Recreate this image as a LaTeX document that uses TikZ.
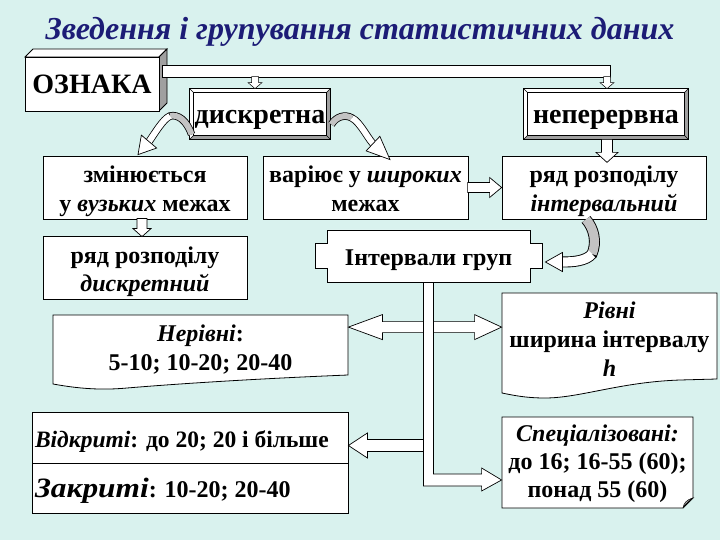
\documentclass[tikz,border=0pt]{standalone}
\usepackage{fontspec}
\setmainfont{Liberation Serif}
\usetikzlibrary{calc}
\definecolor{bgc}{RGB}{217,242,238}
\definecolor{titlec}{RGB}{28,28,118}
\definecolor{sidegray}{RGB}{160,160,160}
\definecolor{bandgray}{RGB}{195,195,195}
\newcommand\bfnt{\fontsize{24}{28.5}\selectfont\bfseries}
\newcommand\hfnt{\fontsize{28}{32}\selectfont\bfseries}
\newcommand\st{\rule[-5.5pt]{0pt}{22.5pt}}
\newcommand\stf{\rule[-5.5pt]{0pt}{30.5pt}}
\newcommand\bevelframe[1]{%
 \fill[sidegray] (#1.north east) -- (#1.south east) -- (#1.south west) -- ($(#1.south west)+(4,-4)$) -- ($(#1.south east)+(-4,-4)$) -- ($(#1.north east)+(-4,4)$) -- cycle;
 \draw (#1.north west) rectangle (#1.south east);
 \draw ($(#1.north west)+(4,4)$) rectangle ($(#1.south east)+(-4,-4)$);
 \draw[line width=0.4pt] (#1.north west) -- ++(4,4) (#1.north east) -- ++(-4,4) (#1.south west) -- ++(4,-4) (#1.south east) -- ++(-4,-4);}
\begin{document}
\begin{tikzpicture}[x=1pt,y=-1pt,line width=0.8pt,
  box/.style={draw,fill=white,inner sep=0pt,align=center,font=\bfnt},
  txt/.style={inner sep=0pt,align=center,font=\bfnt},
  barrow/.style={draw,fill=white,line width=0.7pt}]
\useasboundingbox[fill=bgc] (0,0) rectangle (720,540);
% title
\node[font=\fontsize{32}{36}\selectfont\bfseries\itshape,text=titlec] (title) at (360,32) {Зведення і групування статистичних даних};
% OZNAKA 3D box
\filldraw[fill=white] (25,57) -- (33,49) -- (167,49) -- (159,57) -- cycle;
\filldraw[fill=sidegray] (159,57) -- (167,49) -- (167,103) -- (159,111) -- cycle;
\node[box,minimum width=134pt,minimum height=54pt,font=\hfnt] (oz) at (92,84) {\stf ОЗНАКА};
\node[draw,fill=white,inner sep=0pt,minimum width=448pt,minimum height=12pt] (bar) at (386,71) {};
% bevel boxes
\node[fill=white,inner sep=0pt,minimum width=140pt,minimum height=50pt,font=\hfnt] (dk) at (260,114) {\stf дискретна};
\bevelframe{dk}
\node[fill=white,inner sep=0pt,minimum width=164pt,minimum height=50pt,font=\hfnt] (np) at (606,114) {\stf неперервна};
\bevelframe{np}
% small arrows from bar
\coordinate (s1) at ($(dk.north)+(-5,0)$);
\coordinate (s2) at ($(np.north)+(1,0)$);
\foreach \s in {s1,s2}{
\draw[barrow,line width=0.5pt] (\s) -- ++(-7,-6) -- ++(3.5,0) -- ++(0,-6) -- ++(7,0) -- ++(0,6) -- ++(3.5,0) -- cycle;}
% plain boxes
\node[box,minimum width=204pt,minimum height=63pt] (zm) at (145,187.5) {\stf змінюється\\\st у \textit{вузьких} межах};
\node[box,minimum width=204pt,minimum height=63pt] (rd) at (145,267.5) {\stf ряд розподілу\\\st\textit{дискретний}};
\node[box,minimum width=205pt,minimum height=63pt] (vr) at (365.5,187.5) {\stf варіює у \textit{широких}\\\st межах};
\node[box,minimum width=204pt,minimum height=63pt] (ri) at (604,187.5) {\stf ряд розподілу\\\st\textit{інтервальний}};
% Intervaly grup
\filldraw[fill=white] (327,230) -- (530,230) -- (530,243) -- (542,243) -- (542,268) -- (530,268) -- (530,282) -- (327,282) -- (327,268) -- (315,268) -- (315,243) -- (327,243) -- cycle;
\node[txt,minimum width=203pt,minimum height=52pt] (ig) at (428.5,256) {\stf Інтервали груп};
% Nerivni document shape
\filldraw[fill=white] (53,315) -- (348,315) -- (348,375) .. controls (250,379) and (175,384) .. (127,388) .. controls (95,391) and (70,387) .. (53,384) -- cycle;
\node[txt,minimum width=295pt,minimum height=62pt] (nr) at (200.5,346) {\stf\textit{Нерівні}:\\\st 5-10; 10-20; 20-40};
% Rivni document shape
\filldraw[fill=white] (502,293) -- (717,293) -- (717,379) -- (680,380) .. controls (620,382) and (580,398) .. (545,398) .. controls (525,398) and (512,395) .. (502,393) -- cycle;
\node[txt,minimum width=215pt,minimum height=90pt,font=\fontsize{24}{29}\selectfont\bfseries] (rv) at (609.5,338) {\stf\textit{Рівні}\\\st ширина інтервалу\\\st\textit{h}};
% Vidkryti / Zakryti
\node[box,minimum height=51pt,inner xsep=3pt,align=left] (vk) at (190,437.5) {\makebox[310pt][l]{\stf{\fontsize{23.5}{27}\selectfont\textit{Відкриті}: до 20; 20 і більше}}};
\node[box,minimum height=50pt,inner xsep=3pt,align=left] (zk) at (190,488) {\makebox[310pt][l]{\stf\scalebox{1.12}[1]{\fontsize{28}{30}\selectfont\itshape Закриті}: 10-20; 20-40}};
% Specializovani
\filldraw[fill=white] (502,417) -- (693,417) -- (693,498) -- (683,508) -- (502,508) -- cycle;
\filldraw[fill=bandgray,line width=0.5pt] (683,508) .. controls (684,503) and (686,500) .. (693,498) .. controls (689,501) and (687,502) .. (683,508);
\node[txt,minimum width=191pt,minimum height=91pt,font=\fontsize{24}{28}\selectfont\bfseries] (sp) at (597.5,460) {\stf\textit{Спеціалізовані:}\\\st до 16; 16-55 (60);\\\st понад 55 (60)};
% straight block arrows
\coordinate (T1) at ($(rd.north)+(-3,1)$);
\draw[barrow] (T1) -- ++(-9,-8) -- ++(4,0) -- ++(0,-10) -- ++(10,0) -- ++(0,10) -- ++(4,0) -- cycle;
\coordinate (T2) at (ri.west);
\draw[barrow] (T2) -- ++(-12,-10) -- ++(0,5) -- ++(-22,0) -- ++(0,10) -- ++(22,0) -- ++(0,5) -- cycle;
\coordinate (T3) at ($(np.south)+(1,23)$);
\draw[barrow] (T3) -- ++(-11,-10) -- ++(5.5,0) -- ++(0,-13) -- ++(11,0) -- ++(0,13) -- ++(5.5,0) -- cycle;
% tree of arrows from Intervaly grup
\coordinate (vbL) at ($(ig.south)+(-5,0)$);
\coordinate (vbR) at ($(ig.south)+(5,0)$);
\coordinate (E) at ($(sp.west)+(0,20)$);
\coordinate (Et) at ($(E)+(0,-6)$);
\coordinate (Eb) at ($(E)+(0,6)$);
\coordinate (L) at ($(nr.north east)+(0,12.5)$);
\coordinate (R) at (rv.west |- L);
\draw[barrow] (L) -- ($(L)+(34,-12.5)$) -- ($(L)+(34,-5.5)$) -- ($(R)+(-27,-5.5)$) -- ($(R)+(-27,-12.5)$) -- (R) -- ($(R)+(-27,12.5)$) -- ($(R)+(-27,5.5)$) -- ($(L)+(34,5.5)$) -- ($(L)+(34,12.5)$) -- cycle;
\coordinate (T) at ($(vk.east)+(0,8)$);
\draw[barrow] (T) -- ($(T)+(19,-12.5)$) -- ($(T)+(19,-6)$) -- ($(vbL |- T)+(2,-6)$) -- ($(vbL |- T)+(2,6)$) -- ($(T)+(19,6)$) -- ($(T)+(19,12.5)$) -- cycle;
\draw[barrow] (vbL) -- (vbR) -- (vbR |- Et) -- ($(E)+(-20,-6)$) -- ($(E)+(-20,-12)$) -- (E) -- ($(E)+(-20,11)$) -- ($(E)+(-20,6)$) -- (vbL |- Eb) -- cycle;
% curved arrows
% 1: dk -> zm
\coordinate (a1s) at ($(dk.south west)+(2,-5)$);
\coordinate (a1m) at (170,116);
\coordinate (a1t) at ($(zm.north)+(-7,-1)$);
\coordinate (a1b) at ($(a1t)+(11,-13)$);
\draw[line width=7.5pt] (a1s) .. controls +(-5,-14) and +(8,-2) .. (a1m) .. controls +(-7,3) and +(5,-7) .. (a1b);
\draw[line width=5.9pt,bandgray] (a1s) .. controls +(-5,-14) and +(8,-2) .. (a1m);
\draw[line width=5.9pt,white] (a1m) .. controls +(-7,3) and +(5,-7) .. (a1b);
\draw[barrow] (a1t) -- ($(a1b)+(7.65,6.46)$) -- ($(a1b)+(-7.65,-6.46)$) -- cycle;
% 2: dk -> vr
\coordinate (a2s) at ($(dk.south east)+(1,-15)$);
\coordinate (a2m) at (352,118);
\coordinate (a2t) at ($(vr.north)+(24.5,4)$);
\coordinate (a2b) at ($(a2t)+(-17,-16)$);
\draw[line width=7.5pt] (a2s) .. controls +(5,-8) and +(-7,-4) .. (a2m) .. controls +(8,4) and +(-5,-5) .. (a2b);
\draw[line width=5.9pt,bandgray] (a2s) .. controls +(5,-8) and +(-7,-4) .. (a2m);
\draw[line width=5.9pt,white] (a2m) .. controls +(8,4) and +(-5,-5) .. (a2b);
\draw[barrow] (a2t) -- ($(a2b)+(6.85,-7.28)$) -- ($(a2b)+(-6.85,7.28)$) -- cycle;
% 3: ri -> ig
\coordinate (a3s) at ($(ri.south)+(-18,0)$);
\coordinate (a3m) at (592,254);
\coordinate (a3t) at ($(ig.east)+(15,6)$);
\coordinate (a3b) at ($(a3t)+(17,0)$);
\draw[line width=11pt] (a3s) .. controls +(8,9) and +(5,-12) .. (a3m) .. controls +(-6,7) and +(11,0) .. (a3b);
\draw[line width=9.2pt,bandgray] (a3s) .. controls +(8,9) and +(5,-12) .. (a3m);
\draw[line width=9.2pt,white] (a3m) .. controls +(-6,7) and +(11,0) .. (a3b);
\draw[barrow] (a3t) -- ($(a3b)+(0,-9.5)$) -- ($(a3b)+(0,9.5)$) -- cycle;
\end{tikzpicture}
\end{document}
